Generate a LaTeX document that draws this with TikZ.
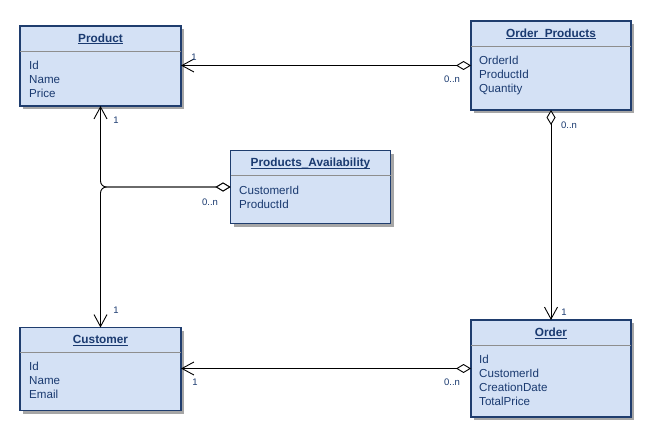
\documentclass[tikz,border=0pt]{standalone}
\usepackage{fontspec}
\setmainfont{Liberation Sans}
\usetikzlibrary{arrows.meta,shadows}
\definecolor{boxfill}{HTML}{D4E1F5}
\definecolor{boxline}{HTML}{1F3D6E}
\definecolor{txt}{HTML}{1A3A70}
\definecolor{sepline}{HTML}{8E8E8E}
\newcommand{\ulttl}[1]{\underline{\vphantom{P}\smash{#1}}}
\begin{document}
\begin{tikzpicture}[x=1pt,y=-1pt,
  cls/.style={draw=boxline, fill=boxfill, line width=1.1pt, anchor=north west, inner sep=0pt, outer sep=0pt,
    drop shadow={shadow xshift=3pt, shadow yshift=-3pt, fill=black!35, opacity=1}},
  ttl/.style={font=\fontsize{11.8}{13}\selectfont\bfseries, text=txt, inner sep=0pt, anchor=base},
  attr/.style={font=\fontsize{11.6}{13}\selectfont, text=txt, anchor=base west, inner sep=0pt},
  sep/.style={draw=sepline, line width=0.8pt},
  lbl/.style={font=\fontsize{9.5}{11}\selectfont, text=txt, inner sep=0pt},
  assoc/.style={draw=black, line width=0.9pt,
    {Diamond[open,length=15pt,width=9pt,fill=white]}-{Straight Barb[length=12pt,width=13pt]}},
]
\useasboundingbox[fill=white] (0,0) rectangle (653,441);

% Product
\node[cls, minimum width=161pt, minimum height=80pt] (prod) at (20,26) {};
\draw[sep] (20,51.5) -- (181,51.5);
\node[ttl] (prodt) at (100.5,42.3) {\ulttl{Product}};
\node[attr] (prod1) at (29,69.8) {Id};
\node[attr] (prod2) at (29,83.8) {Name};
\node[attr] (prod3) at (29,97.8) {Price};

% Order_Products
\node[cls, minimum width=160pt, minimum height=89pt] (op) at (471,21) {};
\draw[sep] (471,46.5) -- (631,46.5);
\node[ttl] (opt) at (551,37.3) {\ulttl{Order\_Products}};
\node[attr] (op1) at (479,64.8) {OrderId};
\node[attr] (op2) at (479,78.8) {ProductId};
\node[attr] (op3) at (479,92.8) {Quantity};

% Products_Availability
\node[cls, minimum width=160pt, minimum height=73pt] (pa) at (230.5,150.5) {};
\draw[sep] (230.5,175) -- (390.5,175);
\node[ttl] (pat) at (310.5,166.8) {\ulttl{Products\_Availability}};
\node[attr] (pa1) at (239,194.3) {CustomerId};
\node[attr] (pa2) at (239,208.3) {ProductId};

% Customer
\node[cls, minimum width=161pt, minimum height=83pt] (cust) at (20,327.5) {};
\draw[sep] (20,352.5) -- (181,352.5);
\node[ttl] (custt) at (100.5,343.3) {\ulttl{Customer}};
\node[attr] (cust1) at (29,370.8) {Id};
\node[attr] (cust2) at (29,384.8) {Name};
\node[attr] (cust3) at (29,398.8) {Email};

% Order
\node[cls, minimum width=160pt, minimum height=97pt] (ord) at (471,320) {};
\draw[sep] (471,345) -- (631,345);
\node[ttl] (ordt) at (551,336.8) {\ulttl{Order}};
\node[attr] (ord1) at (479,363.8) {Id};
\node[attr] (ord2) at (479,377.8) {CustomerId};
\node[attr] (ord3) at (479,391.8) {CreationDate};
\node[attr] (ord4) at (479,405.8) {TotalPrice};

% connectors
\draw[assoc] (op.west) -- (op.west -| prod.east);
\draw[assoc] (op.south) -- (op.south |- ord.north);
\draw[assoc] (ord.west) -- (ord.west -| cust.east);
\draw[assoc, rounded corners=6pt] (pa.west) -- (prod.south |- pa.west) -- (prod.south);
\draw[assoc, rounded corners=6pt] (pa.west) -- (cust.north |- pa.west) -- (cust.north);

% labels
\node[lbl] (l1) at (194,57) {1};
\node[lbl] (l2) at (452,79) {0..n};
\node[lbl] (l3) at (569,125) {0..n};
\node[lbl] (l4) at (564,312) {1};
\node[lbl] (l5) at (195,382) {1};
\node[lbl] (l6) at (452,382) {0..n};
\node[lbl] (l7) at (116,120) {1};
\node[lbl] (l8) at (116,310) {1};
\node[lbl] (l9) at (210,202) {0..n};
\end{tikzpicture}
\end{document}
